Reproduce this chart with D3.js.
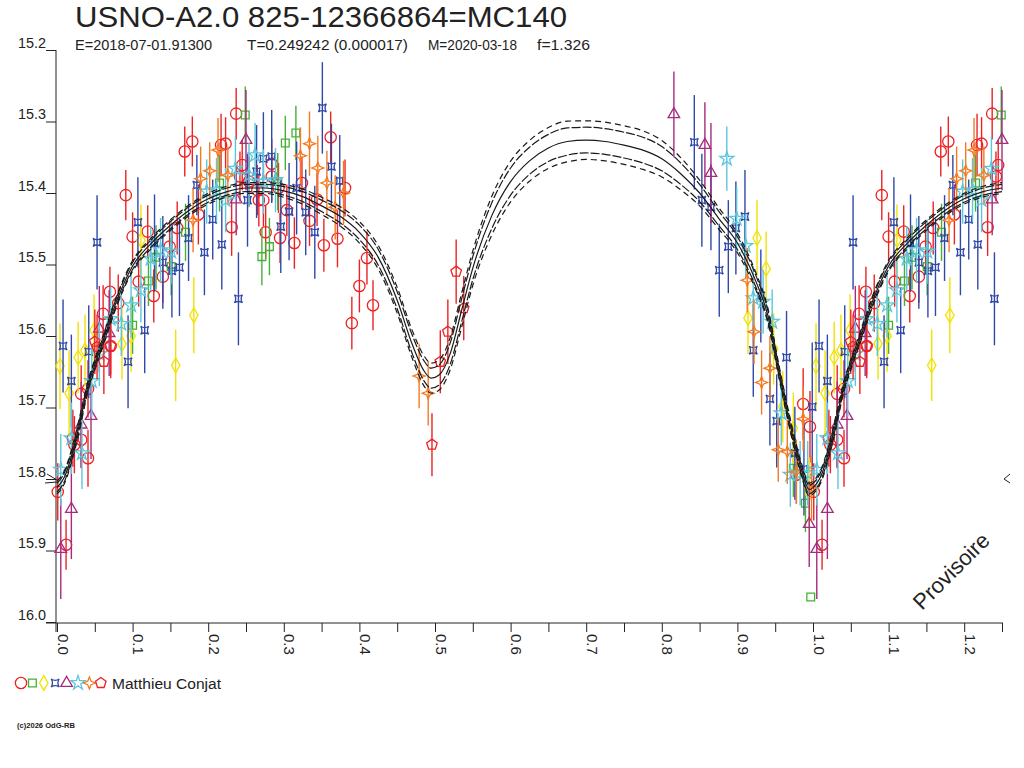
<!DOCTYPE html>
<html>
<head>
<meta charset="utf-8">
<script src="https://cdn.jsdelivr.net/npm/d3@7"></script>
<style>
  html, body { margin: 0; padding: 0; background: #fff; }
  svg { display: block; font-family: "Liberation Sans", Arial, sans-serif; }
</style>
</head>
<body>
<svg id="chart" width="1024" height="768"></svg>
<script>
"use strict";

// observations, one array per observer series: [phase, magnitude, error]
var circleObs = [
  [0.001, 15.818, 0.04], [0.012, 15.892, 0.035], [0.021, 15.743, 0.04], [0.023, 15.752, 0.04],
  [0.032, 15.745, 0.04], [0.032, 15.681, 0.04], [0.041, 15.674, 0.04], [0.041, 15.771, 0.04],
  [0.061, 15.569, 0.04], [0.070, 15.538, 0.035], [0.071, 15.614, 0.04], [0.081, 15.554, 0.04],
  [0.091, 15.403, 0.035], [0.100, 15.461, 0.034], [0.108, 15.524, 0.035], [0.120, 15.454, 0.037],
  [0.128, 15.544, 0.037], [0.140, 15.517, 0.037], [0.149, 15.475, 0.037], [0.159, 15.449, 0.037],
  [0.169, 15.342, 0.035], [0.179, 15.328, 0.035], [0.187, 15.430, 0.042], [0.217, 15.333, 0.044],
  [0.223, 15.331, 0.037], [0.231, 15.448, 0.040], [0.237, 15.289, 0.036], [0.242, 15.377, 0.035],
  [0.245, 15.361, 0.035], [0.254, 15.384, 0.035], [0.265, 15.396, 0.035], [0.267, 15.410, 0.037],
  [0.273, 15.410, 0.037], [0.276, 15.455, 0.037], [0.284, 15.359, 0.035], [0.284, 15.377, 0.035],
  [0.293, 15.393, 0.035], [0.295, 15.463, 0.035], [0.304, 15.424, 0.036], [0.314, 15.470, 0.036],
  [0.324, 15.386, 0.037], [0.334, 15.439, 0.035], [0.344, 15.409, 0.037], [0.353, 15.473, 0.037],
  [0.362, 15.322, 0.036], [0.371, 15.464, 0.040], [0.381, 15.393, 0.040], [0.390, 15.582, 0.037],
  [0.400, 15.530, 0.037], [0.410, 15.491, 0.037], [0.418, 15.557, 0.035],
  [0.978, 15.794, 0.040], [0.987, 15.695, 0.050], [0.996, 15.727, 0.050]
];
var squareObs = [
  [0.100, 15.585, 0.040], [0.121, 15.523, 0.035], [0.131, 15.490, 0.045], [0.151, 15.503, 0.040],
  [0.170, 15.455, 0.040], [0.215, 15.386, 0.040], [0.249, 15.291, 0.040], [0.271, 15.489, 0.040],
  [0.281, 15.475, 0.040], [0.292, 15.384, 0.040], [0.302, 15.330, 0.038], [0.316, 15.316, 0.038],
  [0.974, 15.785, 0.040], [0.990, 15.834, 0.040], [0.997, 15.965, 0]
];
var diamondObs = [
  [0.004, 15.642, 0.060], [0.016, 15.680, 0.060], [0.028, 15.630, 0.050], [0.037, 15.620, 0.050],
  [0.049, 15.592, 0.050], [0.086, 15.611, 0.050], [0.098, 15.600, 0.050], [0.111, 15.466, 0.050],
  [0.157, 15.641, 0.050], [0.181, 15.571, 0.053],
  [0.914, 15.575, 0.050], [0.926, 15.463, 0.053], [0.938, 15.506, 0.052], [0.948, 15.618, 0.050],
  [0.960, 15.699, 0.050], [0.974, 15.729, 0.050], [0.995, 15.820, 0.050]
];
var crossObs = [
  [0.008, 15.614, 0.065], [0.019, 15.663, 0.065], [0.042, 15.622, 0.065], [0.053, 15.469, 0.066],
  [0.094, 15.636, 0.065], [0.107, 15.441, 0.063], [0.116, 15.592, 0.060], [0.129, 15.470, 0.068],
  [0.140, 15.497, 0.065], [0.152, 15.509, 0.065], [0.162, 15.504, 0.068], [0.174, 15.463, 0.060],
  [0.185, 15.389, 0.042], [0.195, 15.483, 0.060], [0.206, 15.437, 0.056], [0.218, 15.472, 0.063],
  [0.240, 15.548, 0.065], [0.252, 15.410, 0.065], [0.264, 15.370, 0.065], [0.273, 15.352, 0.065],
  [0.284, 15.349, 0.065], [0.296, 15.447, 0.065], [0.307, 15.426, 0.068], [0.317, 15.393, 0.065],
  [0.329, 15.427, 0.060], [0.341, 15.455, 0.065], [0.351, 15.281, 0.064], [0.363, 15.363, 0.060],
  [0.374, 15.383, 0.064],
  [0.843, 15.329, 0.066], [0.853, 15.410, 0.065], [0.865, 15.420, 0.060], [0.876, 15.508, 0.065],
  [0.888, 15.475, 0.065], [0.898, 15.449, 0.065], [0.910, 15.433, 0.065], [0.921, 15.620, 0.065],
  [0.931, 15.544, 0.065], [0.943, 15.688, 0.065], [0.952, 15.719, 0.065], [0.965, 15.630, 0.065],
  [0.976, 15.764, 0.065], [0.988, 15.786, 0.065], [0.999, 15.699, 0.090]
];
var triangleObs = [
  [0.005, 15.898, 0.070], [0.019, 15.842, 0.070], [0.032, 15.724, 0.060], [0.045, 15.712, 0.060],
  [0.056, 15.590, 0.060], [0.069, 15.596, 0.060], [0.237, 15.409, 0.050], [0.250, 15.326, 0.070],
  [0.816, 15.290, 0.060], [0.857, 15.333, 0.060], [0.865, 15.372, 0.070], [0.995, 15.863, 0.060]
];
var starObs = [
  [0.005, 15.787, 0.050], [0.019, 15.743, 0.050], [0.033, 15.764, 0.050], [0.046, 15.663, 0.050],
  [0.056, 15.625, 0.045], [0.071, 15.576, 0.045], [0.085, 15.583, 0.045], [0.098, 15.557, 0.045],
  [0.111, 15.536, 0.045], [0.124, 15.492, 0.045], [0.137, 15.480, 0.045], [0.151, 15.482, 0.045],
  [0.198, 15.398, 0.045], [0.211, 15.396, 0.045], [0.223, 15.410, 0.045], [0.236, 15.366, 0.045],
  [0.254, 15.375, 0.045], [0.262, 15.347, 0.045], [0.273, 15.384, 0.045], [0.289, 15.382, 0.045],
  [0.886, 15.352, 0.045], [0.899, 15.436, 0.045], [0.911, 15.474, 0.045], [0.921, 15.547, 0.045],
  [0.934, 15.552, 0.045], [0.946, 15.580, 0.045], [0.958, 15.708, 0.045], [0.970, 15.794, 0.045],
  [0.983, 15.792, 0.045], [0.993, 15.792, 0.045]
];
var sparkleObs = [
  [0.180, 15.438, 0.045], [0.190, 15.380, 0.045], [0.202, 15.369, 0.040], [0.213, 15.340, 0.045],
  [0.226, 15.375, 0.040], [0.322, 15.348, 0.040], [0.334, 15.331, 0.045], [0.345, 15.365, 0.045],
  [0.357, 15.386, 0.045], [0.368, 15.420, 0.045], [0.379, 15.400, 0.045], [0.479, 15.656, 0.045],
  [0.491, 15.680, 0.045],
  [0.913, 15.522, 0.045], [0.922, 15.594, 0.045], [0.932, 15.665, 0.045], [0.943, 15.645, 0.045],
  [0.954, 15.759, 0.045], [0.966, 15.762, 0.045], [0.978, 15.790, 0.045], [0.987, 15.716, 0.045],
  [0.998, 15.813, 0.045]
];
var pentagonObs = [
  [0.050, 15.608, 0.045], [0.053, 15.615, 0.045], [0.062, 15.636, 0.045], [0.071, 15.614, 0.045],
  [0.496, 15.752, 0.044], [0.507, 15.636, 0.044], [0.517, 15.594, 0.045], [0.528, 15.510, 0.045],
  [0.538, 15.561, 0.045]
];

// fitted light curve and its spread
var modelPhase = [0, 0.01, 0.02, 0.03, 0.04, 0.05, 0.06, 0.08, 0.10, 0.125, 0.15, 0.175, 0.20, 0.225,
  0.25, 0.275, 0.30, 0.325, 0.35, 0.375, 0.40, 0.425, 0.45, 0.47, 0.485, 0.495, 0.505, 0.52, 0.535,
  0.55, 0.575, 0.60, 0.625, 0.65, 0.675, 0.70, 0.725, 0.75, 0.775, 0.80, 0.825, 0.85, 0.875, 0.90,
  0.925, 0.94, 0.955, 0.97, 0.985, 0.995, 1.0];
var modelMag = [15.812, 15.797, 15.765, 15.722, 15.674, 15.640, 15.610, 15.548, 15.502, 15.470,
  15.445, 15.424, 15.408, 15.398, 15.393, 15.393, 15.397, 15.405, 15.418, 15.433, 15.455, 15.490,
  15.550, 15.612, 15.648, 15.659, 15.655, 15.625, 15.565, 15.505, 15.432, 15.384, 15.355, 15.337,
  15.328, 15.326, 15.328, 15.333, 15.340, 15.352, 15.373, 15.400, 15.435, 15.470, 15.525, 15.570,
  15.650, 15.725, 15.788, 15.815, 15.812];
var modelSpread = [0.006, 0.006, 0.006, 0.006, 0.005, 0.005, 0.005, 0.005, 0.005, 0.005, 0.005,
  0.005, 0.005, 0.005, 0.005, 0.005, 0.006, 0.007, 0.008, 0.009, 0.010, 0.011, 0.012, 0.013, 0.014,
  0.014, 0.014, 0.015, 0.016, 0.016, 0.018, 0.019, 0.019, 0.019, 0.019, 0.018, 0.018, 0.018, 0.018,
  0.017, 0.015, 0.012, 0.010, 0.009, 0.008, 0.007, 0.006, 0.006, 0.006, 0.006, 0.006];

var magTicks = [15.2, 15.3, 15.4, 15.5, 15.6, 15.7, 15.8, 15.9, 16.0];
var phaseTickLabels = ["0.0", "0.1", "0.2", "0.3", "0.4", "0.5", "0.6", "0.7", "0.8", "0.9", "1.0", "1.1", "1.2"];
var refMag = 15.80;

var series = [
  { name: "circle", color: "#ee2222", data: circleObs },
  { name: "square", color: "#44b036", data: squareObs },
  { name: "diamond", color: "#f2e200", data: diamondObs },
  { name: "cross", color: "#3048a8", data: crossObs },
  { name: "triangle", color: "#a62a7e", data: triangleObs },
  { name: "star", color: "#5cc6dc", data: starObs },
  { name: "sparkle", color: "#f47a22", data: sparkleObs },
  { name: "pentagon", color: "#ee2222", data: pentagonObs }
];

var concaveSquare = {
  draw: function(context, size) {
    var r = Math.sqrt(size) / 2, k = r * 0.35;
    context.moveTo(-r, -r);
    context.quadraticCurveTo(0, -k, r, -r);
    context.quadraticCurveTo(k, 0, r, r);
    context.quadraticCurveTo(0, k, -r, r);
    context.quadraticCurveTo(-k, 0, -r, -r);
    context.closePath();
  }
};
var sparkle = {
  draw: function(context, size) {
    var r = Math.sqrt(size) * 0.75, q = r * 0.28;
    context.moveTo(0, -r);
    context.lineTo(q, -q);
    context.lineTo(r, 0);
    context.lineTo(q, q);
    context.lineTo(0, r);
    context.lineTo(-q, q);
    context.lineTo(-r, 0);
    context.lineTo(-q, -q);
    context.closePath();
  }
};
var pentagon = {
  draw: function(context, size) {
    var r = Math.sqrt(size) * 0.62;
    for (var i = 0; i < 5; i++) {
      var a = -Math.PI / 2 + i * 2 * Math.PI / 5;
      if (i == 0) context.moveTo(r * Math.cos(a), r * Math.sin(a));
      else context.lineTo(r * Math.cos(a), r * Math.sin(a));
    }
    context.closePath();
  }
};

var symbols = {
  circle: d3.symbol().type(d3.symbolCircle).size(100),
  square: d3.symbol().type(d3.symbolSquare).size(60),
  diamond: d3.symbol().type(d3.symbolDiamond).size(62),
  cross: d3.symbol().type(concaveSquare).size(64),
  triangle: d3.symbol().type(d3.symbolTriangle).size(58),
  star: d3.symbol().type(d3.symbolStar).size(62),
  sparkle: d3.symbol().type(sparkle).size(64),
  pentagon: d3.symbol().type(pentagon).size(80)
};

var x = d3.scaleLinear().domain([0, 1.25]).range([57, 1002]);
var y = d3.scaleLinear().domain([15.2, 16.0]).range([50, 622]);
var axisY = 623;

var svg = d3.select("#chart");

function wrapped(obs) {
  // phases 0 - 0.25 are shown again after phase 1
  return obs.concat(obs.filter(function(d) { return d[0] <= 0.25; })
    .map(function(d) { return [d[0] + 1, d[1], d[2]]; }));
}

// titles
svg.append("text").attr("x", 75).attr("y", 27)
  .attr("textLength", 492).attr("lengthAdjust", "spacingAndGlyphs")
  .style("font-size", "29px").style("fill", "#222")
  .text("USNO-A2.0 825-12366864=MC140");
var sub = [["E=2018-07-01.91300", 75, 137], ["T=0.249242 (0.000017)", 247, 161],
  ["M=2020-03-18", 428, 89], ["f=1.326", 537, 53]];
svg.selectAll(".sub").data(sub).enter().append("text")
  .attr("class", "sub")
  .attr("x", function(d) { return d[1]; })
  .attr("y", 50)
  .attr("textLength", function(d) { return d[2]; })
  .attr("lengthAdjust", "spacingAndGlyphs")
  .style("font-size", "15px").style("fill", "#222")
  .text(function(d) { return d[0]; });

// axes
var yAxis = d3.axisLeft(y).tickValues(magTicks).tickSize(10).tickSizeOuter(0)
  .tickFormat(d3.format(".1f"));
var gy = svg.append("g").attr("transform", "translate(56,0)").call(yAxis);
gy.select(".domain").remove();
gy.selectAll("line").attr("stroke", "#222");
gy.selectAll("text").attr("x", -10).attr("y", -3).attr("dy", 0)
  .attr("textLength", 28).attr("lengthAdjust", "spacingAndGlyphs")
  .style("font-size", "15px").style("fill", "#222").style("font-family", "Liberation Sans, Arial, sans-serif");
svg.append("line").attr("x1", 56).attr("x2", 56).attr("y1", y(15.2)).attr("y2", axisY + 9)
  .attr("stroke", "#222");

var xTickValues = d3.range(26).map(function(i) { return i * 0.05; });
var xAxis = d3.axisBottom(x).tickValues(xTickValues).tickSize(9).tickSizeOuter(0)
  .tickFormat(function(d, i) { return i % 2 == 0 ? phaseTickLabels[i / 2] : ""; });
var gx = svg.append("g").attr("transform", "translate(0," + axisY + ")").call(xAxis);
gx.select(".domain").remove();
gx.selectAll("line").attr("stroke", "#222");
gx.selectAll("text").attr("x", 0).attr("y", 0).attr("dy", 0)
  .attr("transform", "translate(0,11) rotate(90)")
  .style("text-anchor", "start")
  .style("font-size", "15px").style("fill", "#222").style("font-family", "Liberation Sans, Arial, sans-serif");
svg.append("line").attr("x1", 46).attr("x2", 1003).attr("y1", axisY).attr("y2", axisY)
  .attr("stroke", "#222");

// data points with error bars
var plot = svg.append("g");
series.forEach(function(s) {
  var pts = wrapped(s.data);
  var g = plot.append("g").attr("class", "series-" + s.name);
  g.selectAll("line").data(pts.filter(function(d) { return d[2] > 0; })).enter().append("line")
    .attr("x1", function(d) { return x(d[0]); })
    .attr("x2", function(d) { return x(d[0]); })
    .attr("y1", function(d) { return y(d[1] - d[2]); })
    .attr("y2", function(d) { return y(d[1] + d[2]); })
    .attr("stroke", s.color).attr("stroke-width", 1.4);
  g.selectAll("path").data(pts).enter().append("path")
    .attr("transform", function(d) { return "translate(" + x(d[0]) + "," + y(d[1]) + ")"; })
    .attr("d", symbols[s.name]())
    .attr("fill", "none").attr("stroke", s.color).attr("stroke-width", 1.3);
});

// model curve
var model = modelPhase.map(function(p, i) { return [p, modelMag[i], modelSpread[i]]; });
model = model.concat(model.filter(function(d) { return d[0] > 0 && d[0] <= 0.25; })
  .map(function(d) { return [d[0] + 1, d[1], d[2]]; }));

var curves = [
  { k: -1.5, dash: "6,4" },
  { k: -1, dash: "9,2" },
  { k: 0, dash: null },
  { k: 1, dash: "9,2" },
  { k: 1.5, dash: "6,4" }
];
curves.forEach(function(c) {
  var line = d3.line()
    .x(function(d) { return x(d[0]); })
    .y(function(d) { return y(d[1] + c.k * d[2]); })
    .curve(d3.curveMonotoneX);
  svg.append("path").datum(model)
    .attr("d", line)
    .attr("fill", "none").attr("stroke", "#1a1a1a").attr("stroke-width", 1.2)
    .attr("stroke-dasharray", c.dash);
});

// reference markers
var ry = y(refMag);
svg.append("path")
  .attr("d", "M47," + (ry - 5) + "L57," + (ry + 1) + "M45," + (ry + 4) + "L57," + (ry + 3))
  .attr("fill", "none").attr("stroke", "#222");
svg.append("path")
  .attr("d", "M1010," + (ry - 5) + "L1004," + ry + "L1010," + (ry + 4))
  .attr("fill", "none").attr("stroke", "#222");

// legend
var legend = svg.append("g").attr("transform", "translate(0,683)");
series.forEach(function(s, i) {
  legend.append("path")
    .attr("transform", "translate(" + (21 + i * 11.4) + ",0)")
    .attr("d", symbols[s.name]())
    .attr("fill", "none").attr("stroke", s.color).attr("stroke-width", 1.3);
});
legend.append("text").attr("x", 112).attr("y", 6)
  .attr("textLength", 109).attr("lengthAdjust", "spacingAndGlyphs")
  .style("font-size", "15.5px").style("fill", "#222")
  .text("Matthieu Conjat");

svg.append("text").attr("x", 17).attr("y", 728)
  .attr("textLength", 58).attr("lengthAdjust", "spacingAndGlyphs")
  .style("font-size", "7px").style("font-weight", "bold").style("fill", "#222")
  .text("(c)2026 OdG-RB");

svg.append("text")
  .attr("transform", "translate(922,611) rotate(-45)")
  .style("font-size", "22px").style("fill", "#222")
  .text("Provisoire");
</script>
</body>
</html>
